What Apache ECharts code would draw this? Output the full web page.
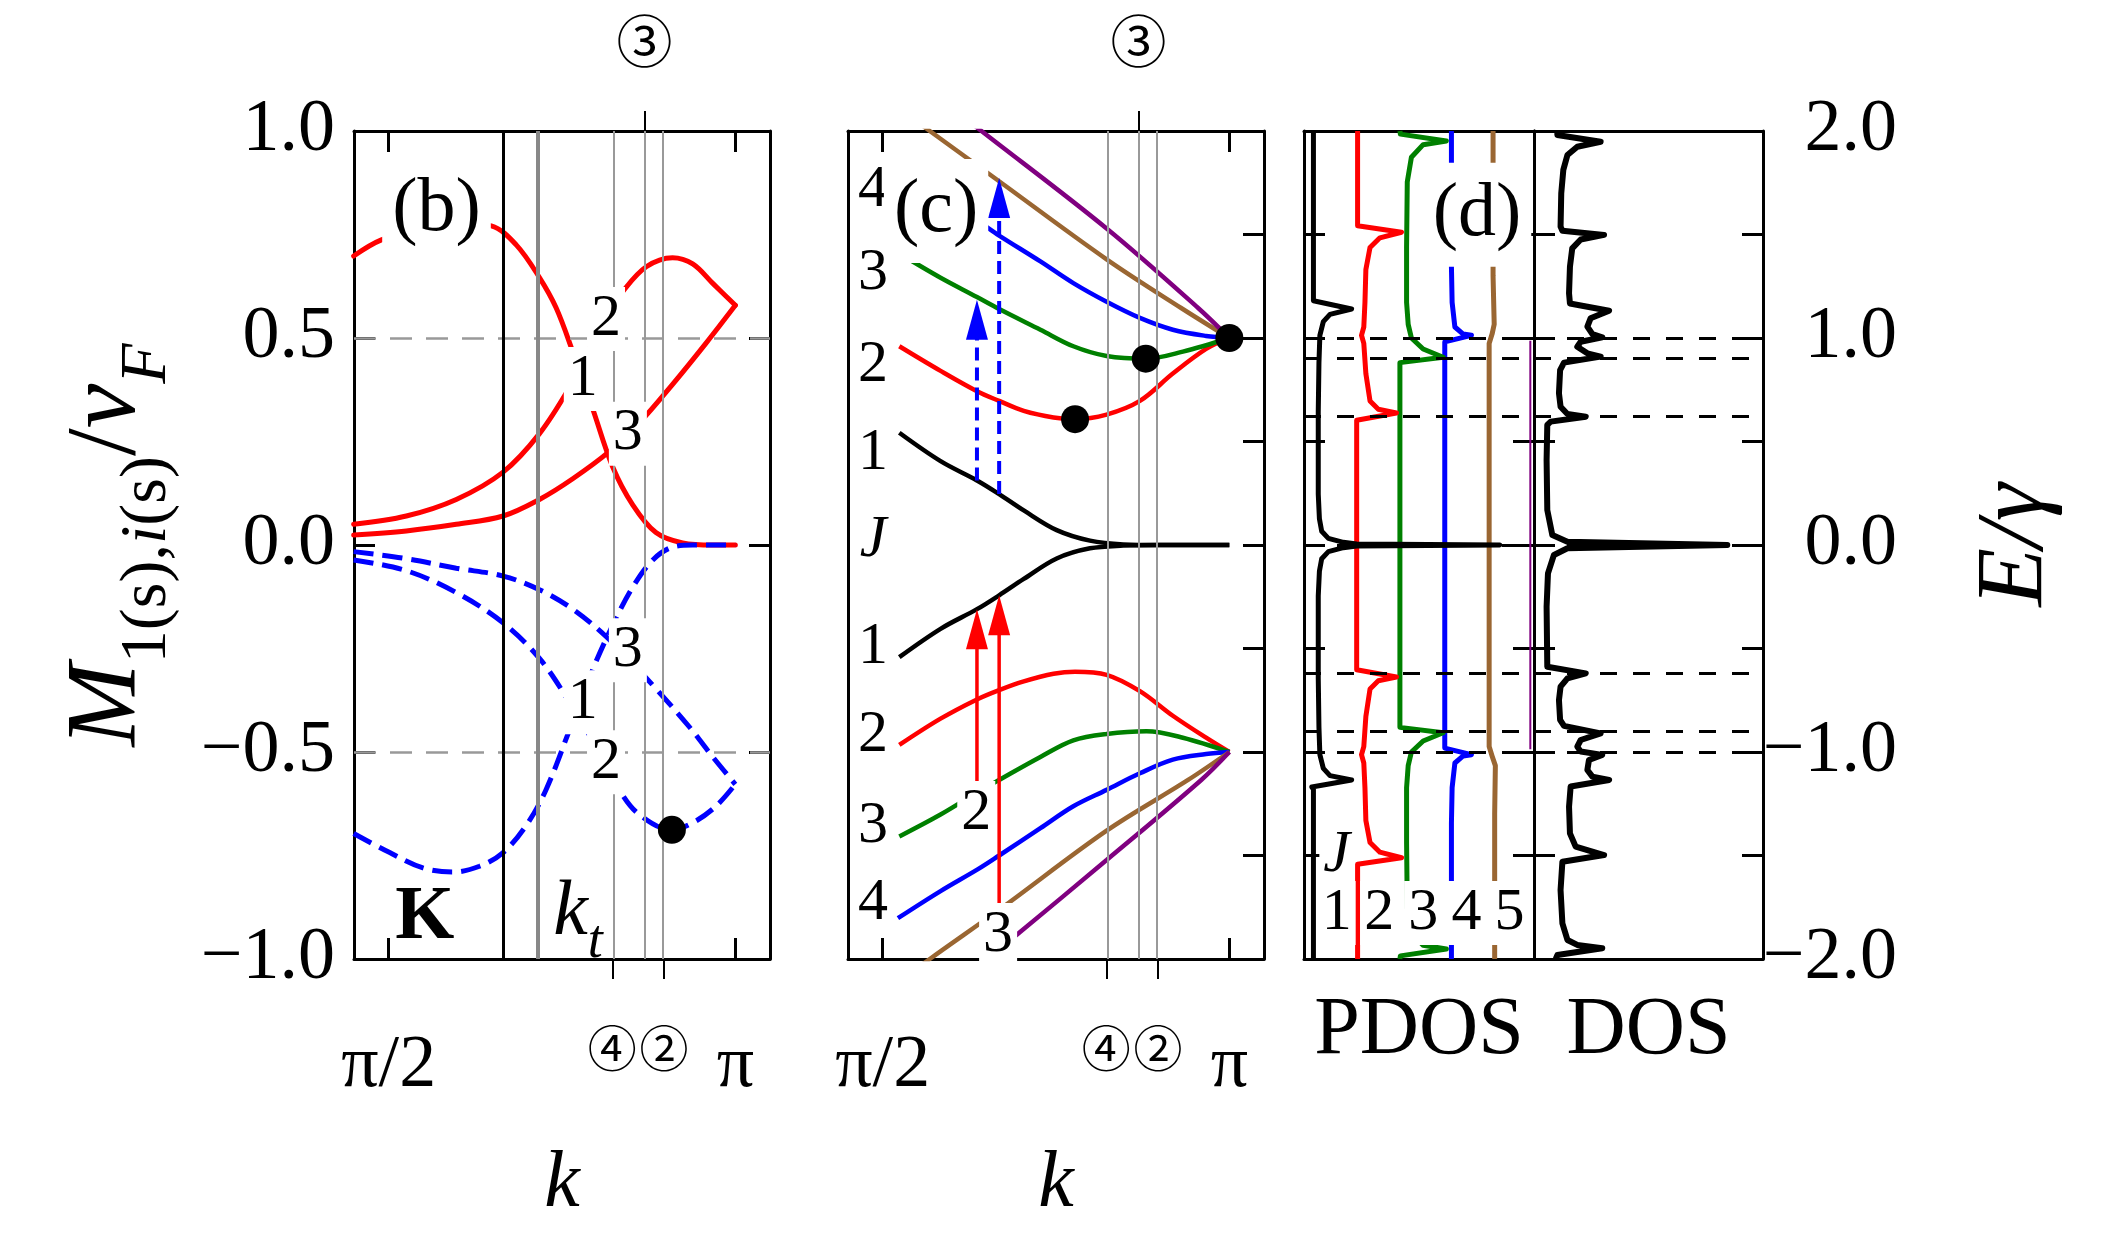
<!DOCTYPE html>
<html>
<head>
<meta charset="utf-8">
<script src="https://cdn.jsdelivr.net/npm/echarts@6/dist/echarts.min.js"></script>
<style>
  html, body { margin: 0; padding: 0; background: #fff; }
  #chart { width: 2117px; height: 1252px; }
</style>
</head>
<body>
<div id="chart"></div>
<script>
const FONT = "'Liberation Serif', 'DejaVu Serif', serif";
const CIRC = "'Noto Sans CJK JP', 'DejaVu Sans', sans-serif";
const INK = '#000';
const RED = '#ff0000', BLUE = '#0000ff', GREEN = '#008000', BROWN = '#9a6632', PURPLE = '#800080';

// k axis of (b) and (c) is written as (k - pi/2)/(pi/2): pi/2 -> 0, pi -> 1
const kTicks = [0, 1];
const kTickLabels = ['π/2', 'π'];
const markTop = [0.738];
const markTopLabels = ['③'];
const markBottom = [0.645, 0.794];
const markBottomLabels = ['④', '②'];

// ---- (b) M_{1(s),i(s)}/v_F
const bRed1 = [[-0.101,0.698],[-0.021,0.737],[0.099,0.765],[0.200,0.778],[0.296,0.771],[0.368,0.725],[0.435,0.646],[0.483,0.573],[0.531,0.467],[0.589,0.328],[0.646,0.189],[0.704,0.097],[0.771,0.030],[0.848,0.005],[0.935,0],[1.0,0]];
const bRed2 = [[-0.101,0.050],[0.051,0.070],[0.195,0.110],[0.330,0.176],[0.435,0.269],[0.522,0.381],[0.570,0.460],[0.627,0.553],[0.675,0.612],[0.743,0.672],[0.819,0.694],[0.877,0.679],[0.935,0.632],[1.0,0.579]];
const bRed3 = [[-0.101,0.024],[0.051,0.034],[0.195,0.050],[0.330,0.070],[0.435,0.110],[0.531,0.160],[0.637,0.226],[0.723,0.295],[0.819,0.388],[0.915,0.487],[1.0,0.579]];
const bBlue1 = [[-0.101,-0.697],[0.003,-0.743],[0.099,-0.780],[0.185,-0.790],[0.262,-0.776],[0.330,-0.743],[0.397,-0.677],[0.454,-0.591],[0.522,-0.446],[0.589,-0.300],[0.646,-0.194],[0.704,-0.102],[0.762,-0.036],[0.819,-0.005],[0.877,0],[1.0,0]];
const bBlue2 = [[-0.101,-0.036],[0.051,-0.062],[0.195,-0.115],[0.330,-0.188],[0.435,-0.274],[0.522,-0.380],[0.579,-0.459],[0.665,-0.591],[0.723,-0.651],[0.817,-0.688],[0.877,-0.671],[0.944,-0.631],[1.0,-0.578]];
const bBlue3 = [[-0.101,-0.016],[0.051,-0.033],[0.195,-0.056],[0.330,-0.075],[0.435,-0.108],[0.531,-0.155],[0.627,-0.221],[0.704,-0.287],[0.771,-0.347],[0.867,-0.439],[0.935,-0.512],[1.0,-0.578]];
const bDots = [[0.817,-0.688]];
const bHalfLines = [0.5, -0.5];
const bKLine = 0.330;
const bKtLine = 0.432;
const modeLines = [0.645, 0.738, 0.794];
const bLabels = [['(b)',0.138,0.81],['1',0.560,0.401],['2',0.627,0.546],['3',0.690,0.269],['3',0.690,-0.254],['1',0.560,-0.380],['2',0.627,-0.525]];

// ---- (c) bands E/gamma
const cJUp = [[0.048,0.542],[0.167,0.405],[0.272,0.312],[0.336,0.246],[0.407,0.167],[0.502,0.072],[0.598,0.021],[0.694,0.003],[0.80,0],[1.0,0]];
const cJDn = [[0.048,-0.542],[0.167,-0.405],[0.272,-0.310],[0.336,-0.243],[0.407,-0.164],[0.502,-0.065],[0.598,-0.016],[0.694,-0.003],[0.80,0],[1.0,0]];
const cRedUp = [[0.048,0.960],[0.167,0.841],[0.272,0.743],[0.336,0.696],[0.407,0.648],[0.493,0.616],[0.555,0.608],[0.646,0.630],[0.742,0.696],[0.837,0.828],[0.933,0.947],[1.0,1.0]];
const cRedDn = [[0.048,-0.966],[0.167,-0.839],[0.272,-0.746],[0.336,-0.701],[0.407,-0.659],[0.493,-0.622],[0.555,-0.612],[0.646,-0.627],[0.742,-0.706],[0.837,-0.825],[0.933,-0.931],[1.0,-1.0]];
const cGreenUp = [[0.048,1.408],[0.167,1.291],[0.272,1.198],[0.336,1.140],[0.455,1.040],[0.550,0.960],[0.646,0.913],[0.759,0.900],[0.866,0.934],[1.0,1.0]];
const cGreenDn = [[0.048,-1.408],[0.167,-1.302],[0.272,-1.196],[0.336,-1.135],[0.455,-1.024],[0.550,-0.944],[0.646,-0.913],[0.761,-0.900],[0.866,-0.931],[1.0,-1.0]];
const cBlueUp = [[0.044,1.805],[0.167,1.675],[0.275,1.564],[0.336,1.495],[0.455,1.370],[0.550,1.265],[0.646,1.175],[0.742,1.097],[0.837,1.040],[0.933,1.010],[1.0,1.0]];
const cBlueDn = [[0.044,-1.803],[0.167,-1.672],[0.275,-1.566],[0.336,-1.500],[0.455,-1.368],[0.550,-1.262],[0.646,-1.183],[0.742,-1.103],[0.837,-1.037],[0.933,-1.010],[1.0,-1.0]];
const cBrownUp = [[0.048,2.11],[0.136,2.0],[0.323,1.773],[0.646,1.380],[0.861,1.145],[1.0,1.0]];
const cBrownDn = [[0.048,-2.11],[0.136,-2.0],[0.342,-1.755],[0.646,-1.380],[0.881,-1.135],[1.0,-1.0]];
const cPurpleUp = [[0.20,2.11],[0.285,2.0],[0.646,1.529],[0.910,1.145],[1.0,1.0]];
const cPurpleDn = [[0.20,-2.13],[0.300,-2.0],[0.386,-1.884],[0.646,-1.522],[0.919,-1.135],[1.0,-1.0]];
const cDots = [[0.555,0.608],[0.759,0.900],[1.0,1.0]];
const arrowX = [0.272, 0.336];
const blueArrowFrom = [0.312, 0.246];
const blueArrowBase = [1.03, 1.61];
const blueArrowTip = [1.185, 1.773];
const redArrowFrom = [-1.175, -1.754];
const redArrowBase = [-0.48, -0.40];
const redArrowTip = [-0.310, -0.243];
const cLabels = [['4',-0.028,1.716],['3',-0.028,1.314],['2',-0.028,0.868],['1',-0.028,0.444],['J',-0.028,0.021],
  ['1',-0.028,-0.495],['2',-0.028,-0.918],['3',-0.028,-1.361],['4',-0.028,-1.73],['(c)',0.154,1.614],['2',0.270,-1.295],['3',0.333,-1.884]];

// ---- (d) PDOS per mode and total DOS
const pdosJ = [[0.041,2.0],[0.041,1.18],[0.034,1.172],[0.207,1.140],[0.113,1.114],[0.084,1.079],[0.069,1.013],[0.065,0.881],[0.062,0.643],[0.062,0.246],[0.067,0.127],[0.077,0.066],[0.106,0.032],[0.171,0.013],[0.229,0.005],[0.851,0.0],
  [0.229,-0.005],[0.171,-0.013],[0.106,-0.032],[0.077,-0.066],[0.067,-0.127],[0.062,-0.246],[0.062,-0.643],[0.065,-0.881],[0.069,-1.013],[0.084,-1.079],[0.113,-1.114],[0.207,-1.135],[0.034,-1.169],[0.041,-1.18],[0.041,-2.0]];
const pdosRed = [[0.233,2.0],[0.233,1.542],[0.424,1.511],[0.330,1.484],[0.287,1.437],[0.269,1.331],[0.265,1.172],[0.260,1.053],[0.250,1.013],[0.260,0.974],[0.269,0.828],[0.287,0.696],[0.323,0.656],[0.402,0.638],[0.229,0.603],
  [0.229,-0.603],[0.402,-0.638],[0.323,-0.656],[0.287,-0.696],[0.269,-0.828],[0.260,-0.974],[0.250,-1.013],[0.260,-1.053],[0.265,-1.172],[0.269,-1.331],[0.287,-1.437],[0.330,-1.484],[0.424,-1.511],[0.233,-1.542],[0.233,-2.0]];
const pdosGreen = [[0.417,2.0],[0.419,1.985],[0.619,1.952],[0.518,1.934],[0.467,1.873],[0.449,1.754],[0.446,1.437],[0.446,1.172],[0.453,1.066],[0.467,1.0],[0.518,0.947],[0.605,0.907],[0.417,0.881],
  [0.417,-0.881],[0.605,-0.907],[0.518,-0.947],[0.467,-1.0],[0.453,-1.066],[0.446,-1.172],[0.446,-1.437],[0.449,-1.754],[0.467,-1.873],[0.518,-1.934],[0.619,-1.952],[0.419,-1.985],[0.417,-2.0]];
const pdosBlue = [[0.641,2.0],[0.641,1.344],[0.644,1.172],[0.656,1.053],[0.692,1.019],[0.728,1.013],[0.612,0.981],
  [0.612,-0.981],[0.728,-1.013],[0.692,-1.019],[0.656,-1.053],[0.644,-1.172],[0.641,-1.344],[0.641,-2.0]];
const pdosBrown = [[0.822,2.0],[0.822,1.30],[0.827,1.066],[0.818,1.02],[0.805,0.974],[0.805,-0.974],[0.818,-1.02],[0.832,-1.066],[0.829,-1.30],[0.829,-2.0]];
const pdosPurple = [[0.984,0.987],[0.984,-0.987]];
const dosTotal = [[0.102,2.0],[0.102,1.981],[0.291,1.948],[0.189,1.924],[0.146,1.884],[0.128,1.812],[0.119,1.699],[0.116,1.538],[0.124,1.518],[0.306,1.498],[0.204,1.476],[0.167,1.433],[0.157,1.345],[0.153,1.216],[0.157,1.167],
  [0.328,1.132],[0.247,1.095],[0.233,1.055],[0.255,1.019],[0.298,1.003],[0.204,0.982],[0.189,0.958],[0.233,0.926],[0.291,0.910],[0.131,0.881],[0.114,0.845],[0.109,0.733],[0.116,0.668],[0.146,0.633],[0.226,0.620],
  [0.073,0.596],[0.058,0.580],[0.055,0.411],[0.058,0.169],[0.080,0.048],[0.146,0.016],[0.844,0.0],[0.146,-0.016],[0.087,-0.048],[0.061,-0.137],[0.055,-0.298],[0.058,-0.588],[0.226,-0.620],[0.146,-0.644],[0.116,-0.684],
  [0.109,-0.749],[0.114,-0.845],[0.131,-0.874],[0.291,-0.910],[0.204,-0.942],[0.189,-0.974],[0.204,-0.998],[0.298,-1.014],[0.240,-1.039],[0.233,-1.087],[0.255,-1.119],[0.328,-1.135],[0.160,-1.167],[0.153,-1.264],
  [0.157,-1.393],[0.182,-1.457],[0.306,-1.498],[0.124,-1.530],[0.116,-1.667],[0.124,-1.828],[0.146,-1.908],[0.189,-1.932],[0.298,-1.948],[0.102,-1.981],[0.095,-2.0]];
const dosLevels = [1.0, 0.9, 0.616, 0, -0.616, -0.9, -1.0];
const dLabels = [['(d)',0.752,1.595],['J',0.142,-1.50],['1',0.142,-1.778],['2',0.327,-1.778],['3',0.518,-1.778],['4',0.706,-1.778],['5',0.894,-1.778]];

// ---------------------------------------------------------------
function nearest(arr, v) {
  let best = 0;
  arr.forEach((a, i) => { if (Math.abs(a - v) < Math.abs(arr[best] - v)) best = i; });
  return best;
}
function fmtVal(v) {
  return (v < 0 ? '−' : '') + Math.abs(v).toFixed(1);
}
function frame() {
  return {show: true, onZero: false, lineStyle: {color: INK, width: 3}};
}
function inTicks(vals) {
  const t = {show: true, inside: true, length: 21, lineStyle: {color: INK, width: 3}};
  if (vals) t.customValues = vals;
  return t;
}
function outTicks(vals) {
  return {show: true, inside: false, length: 20, lineStyle: {color: INK, width: 2}, customValues: vals};
}
const tickFont = {fontSize: 74, fontFamily: FONT, color: INK};

function kAxes(g) {
  const base = {gridIndex: g, type: 'value', min: -0.1, max: 1.1, splitLine: {show: false}};
  return [
    Object.assign({}, base, {position: 'bottom', axisLine: frame(), axisTick: inTicks(kTicks),
      axisLabel: Object.assign({customValues: kTicks, margin: 71, hideOverlap: false, formatter: v => kTickLabels[nearest(kTicks, v)]}, tickFont)}),
    Object.assign({}, base, {position: 'top', axisLine: frame(), axisTick: inTicks(kTicks), axisLabel: {show: false}}),
    Object.assign({}, base, {position: 'top', axisLine: {show: false, onZero: false}, axisTick: outTicks(markTop),
      axisLabel: {customValues: markTop, margin: 62, hideOverlap: false, formatter: v => markTopLabels[nearest(markTop, v)], fontSize: 56, fontFamily: CIRC, color: INK}}),
    Object.assign({}, base, {position: 'bottom', axisLine: {show: false, onZero: false}, axisTick: outTicks(markBottom),
      axisLabel: {customValues: markBottom, margin: 65, hideOverlap: false, showMinLabel: true, showMaxLabel: true,
        formatter: v => markBottomLabels[nearest(markBottom, v)], fontSize: 49, fontFamily: CIRC, color: INK},
      name: 'k', nameLocation: 'middle', nameGap: 186,
      nameTextStyle: {fontFamily: FONT, fontStyle: 'italic', fontSize: 80, color: INK}})
  ];
}
function dosAxes(g, name) {
  const base = {gridIndex: g, type: 'value', min: 0, max: 1, splitLine: {show: false}, axisTick: {show: false}, axisLabel: {show: false}};
  return [
    Object.assign({}, base, {position: 'bottom', axisLine: frame(), name: name, nameLocation: 'middle', nameGap: 31,
      nameTextStyle: {fontFamily: FONT, fontSize: 82, color: INK}}),
    Object.assign({}, base, {position: 'top', axisLine: frame()})
  ];
}
function eAxis(g, pos, extra) {
  return Object.assign({gridIndex: g, type: 'value', position: pos, min: -2, max: 2, interval: 0.5,
    axisLine: frame(), axisTick: inTicks(), axisLabel: {show: false}, splitLine: {show: false}}, extra || {});
}

const mainTok = {fontFamily: FONT, fontSize: 100, lineHeight: 112, verticalAlign: 'top', color: INK};
const sub = {fontFamily: FONT, fontSize: 66, lineHeight: 66, padding: [57, 0, 0, 0], verticalAlign: 'top', color: INK};
const xAxes = [].concat(kAxes(0), kAxes(1), dosAxes(2, 'PDOS'), dosAxes(3, 'DOS'));
const yAxes = [
  {gridIndex: 0, type: 'value', position: 'left', min: -1, max: 1, interval: 0.5, axisLine: frame(), axisTick: inTicks(),
    axisLabel: Object.assign({formatter: fmtVal, margin: 19}, tickFont), splitLine: {show: false},
    name: '{m|M}{s|1(s),}{si|i}{s|(s)}{d|/}{m|v}{si|F}', nameLocation: 'middle', nameRotate: 90, nameGap: 184,
    nameTextStyle: {color: INK, rich: {
      m: Object.assign({}, mainTok, {fontStyle: 'italic'}),
      d: mainTok,
      s: sub,
      si: Object.assign({}, sub, {fontStyle: 'italic'})
    }}},
  {gridIndex: 0, type: 'value', position: 'right', min: -1, max: 1, interval: 0.5, axisLine: frame(), axisTick: inTicks(),
    axisLabel: {show: false}, splitLine: {show: false}},
  eAxis(1, 'left', {axisTick: {show: false}}),
  eAxis(1, 'right'),
  eAxis(2, 'left'),
  eAxis(2, 'right'),
  eAxis(3, 'left'),
  eAxis(3, 'right', {
    axisLabel: Object.assign({show: true, align: 'right', margin: 134, formatter: v => Number.isInteger(v) ? fmtVal(v) : ''}, tickFont),
    name: 'E/γ', nameLocation: 'middle', nameRotate: 90, nameGap: 206,
    nameTextStyle: {fontFamily: FONT, fontStyle: 'italic', fontSize: 96, color: INK}
  })
];

function curve(data, color, xi, yi, extra) {
  return Object.assign({type: 'line', data: data, xAxisIndex: xi, yAxisIndex: yi, symbol: 'none', smooth: 0.35,
    lineStyle: {color: color, width: 5, join: 'round', cap: 'round'}, z: 3, silent: true}, extra || {});
}
function guides(xi, yi, items) {
  return {type: 'line', xAxisIndex: xi, yAxisIndex: yi, data: [], z: 1, silent: true,
    markLine: {symbol: ['none', 'none'], silent: true, animation: false, label: {show: false}, data: items}};
}
function dots(data, xi, yi) {
  return {type: 'scatter', data: data, xAxisIndex: xi, yAxisIndex: yi, symbolSize: 28, itemStyle: {color: INK, opacity: 1}, z: 6, silent: true};
}
function texts(items, xi, yi, extra) {
  return {type: 'scatter', xAxisIndex: xi, yAxisIndex: yi, symbolSize: 1, itemStyle: {color: 'rgba(0,0,0,0)', opacity: 1}, z: 10, silent: true,
    label: {show: true, position: 'inside', formatter: '{b}', color: INK, fontFamily: FONT, fontSize: 60, backgroundColor: '#fff', padding: [2, 4]},
    data: items.map(it => ({name: it[0], value: [it[1], it[2]], label: Object.assign(
      it[0] === 'J' ? {fontStyle: 'italic'} : {},
      it[0].charAt(0) === '(' ? {fontSize: 76, padding: [14, 10]} : {},
      extra || {})}))
  };
}

const grayDash = {color: '#999', width: 2.5, type: [22, 14]};
const thinGray = {color: '#999', width: 2, type: 'solid'};
const blackDash = {color: INK, width: 3, type: [17, 16]};
const blueDash = [20, 9];

const series = [
  // (b)
  guides(0, 0, [].concat(
    bHalfLines.map(v => ({yAxis: v, lineStyle: grayDash})),
    modeLines.map(v => ({xAxis: v, lineStyle: thinGray})),
    [{xAxis: bKtLine, lineStyle: {color: '#888', width: 4, type: 'solid'}},
     {xAxis: bKLine, lineStyle: {color: INK, width: 3, type: 'solid'}}])),
  curve(bRed1, RED, 0, 0), curve(bRed2, RED, 0, 0), curve(bRed3, RED, 0, 0),
  curve(bBlue1, BLUE, 0, 0, {lineStyle: {color: BLUE, width: 5, type: blueDash}}),
  curve(bBlue2, BLUE, 0, 0, {lineStyle: {color: BLUE, width: 5, type: blueDash}}),
  curve(bBlue3, BLUE, 0, 0, {lineStyle: {color: BLUE, width: 5, type: blueDash}}),
  dots(bDots, 0, 0),
  texts(bLabels, 0, 0),
  texts([['K', 0.104, -0.902]], 0, 0, {fontWeight: 'bold', fontSize: 76, backgroundColor: 'transparent'}),
  texts([['kt', 0.546, -0.89]], 0, 0, {backgroundColor: 'transparent', formatter: '{k|k}{t|t}', rich: {
    k: {fontFamily: FONT, fontStyle: 'italic', fontSize: 78, lineHeight: 84, color: INK},
    t: {fontFamily: FONT, fontStyle: 'italic', fontSize: 54, lineHeight: 54, padding: [44, 0, 0, 0], verticalAlign: 'top', color: INK}}}),

  // (c)
  guides(4, 2, modeLines.map(v => ({xAxis: v, lineStyle: thinGray}))),
  curve(cJUp, INK, 4, 2, {lineStyle: {color: INK, width: 4.5}}), curve(cJDn, INK, 4, 2, {lineStyle: {color: INK, width: 4.5}}),
  curve(cRedUp, RED, 4, 2, {lineStyle: {color: RED, width: 4.5}}), curve(cRedDn, RED, 4, 2, {lineStyle: {color: RED, width: 4.5}}),
  curve(cGreenUp, GREEN, 4, 2, {lineStyle: {color: GREEN, width: 4.5}}), curve(cGreenDn, GREEN, 4, 2, {lineStyle: {color: GREEN, width: 4.5}}),
  curve(cBlueUp, BLUE, 4, 2, {lineStyle: {color: BLUE, width: 4.5}}), curve(cBlueDn, BLUE, 4, 2, {lineStyle: {color: BLUE, width: 4.5}}),
  curve(cBrownUp, BROWN, 4, 2, {lineStyle: {color: BROWN, width: 4.5}}), curve(cBrownDn, BROWN, 4, 2, {lineStyle: {color: BROWN, width: 4.5}}),
  curve(cPurpleUp, PURPLE, 4, 2, {lineStyle: {color: PURPLE, width: 4.5}}), curve(cPurpleDn, PURPLE, 4, 2, {lineStyle: {color: PURPLE, width: 4.5}})
];
arrowX.forEach((x, i) => {
  series.push(curve([[x, blueArrowFrom[i]], [x, blueArrowBase[i]]], BLUE, 4, 2, {smooth: false, z: 5, lineStyle: {color: BLUE, width: 4, type: [13, 7]}}));
  series.push(curve([[x, redArrowFrom[i]], [x, redArrowBase[i]]], RED, 4, 2, {smooth: false, z: 5, lineStyle: {color: RED, width: 3.5}}));
});
series.push({type: 'scatter', xAxisIndex: 4, yAxisIndex: 2, symbol: 'triangle', symbolSize: [22, 40], symbolOffset: [0, '50%'], z: 5, silent: true,
  itemStyle: {opacity: 1},
  data: arrowX.map((x, i) => ({value: [x, blueArrowTip[i]], itemStyle: {color: BLUE, opacity: 1}}))
    .concat(arrowX.map((x, i) => ({value: [x, redArrowTip[i]], itemStyle: {color: RED, opacity: 1}})))});
series.push(dots(cDots, 4, 2));
series.push(texts(cLabels, 4, 2));

// (d)
function dline(data, color, xi, yi, w) {
  return curve(data, color, xi, yi, {smooth: false, lineStyle: {color: color, width: w || 5, join: 'round'}});
}
series.push(
  guides(8, 4, dosLevels.map(v => ({yAxis: v, lineStyle: blackDash}))),
  dline(pdosPurple, PURPLE, 8, 4, 2),
  dline(pdosBrown, BROWN, 8, 4), dline(pdosBlue, BLUE, 8, 4), dline(pdosGreen, GREEN, 8, 4),
  dline(pdosRed, RED, 8, 4), dline(pdosJ, INK, 8, 4),
  texts(dLabels, 8, 4),
  guides(10, 6, dosLevels.map(v => ({yAxis: v, lineStyle: blackDash}))),
  dline(dosTotal, INK, 10, 6, 6)
);

const chart = echarts.init(document.getElementById('chart'), null, {renderer: 'canvas'});
chart.setOption({
  animation: false,
  backgroundColor: '#fff',
  grid: [
    {left: 354, top: 131, width: 416, height: 828, outerBoundsMode: 'none'},
    {left: 848, top: 131, width: 416, height: 828, outerBoundsMode: 'none'},
    {left: 1304, top: 131, width: 230, height: 828, outerBoundsMode: 'none'},
    {left: 1534, top: 131, width: 229, height: 828, outerBoundsMode: 'none'}
  ],
  xAxis: xAxes,
  yAxis: yAxes,
  series: series
});
</script>
</body>
</html>
